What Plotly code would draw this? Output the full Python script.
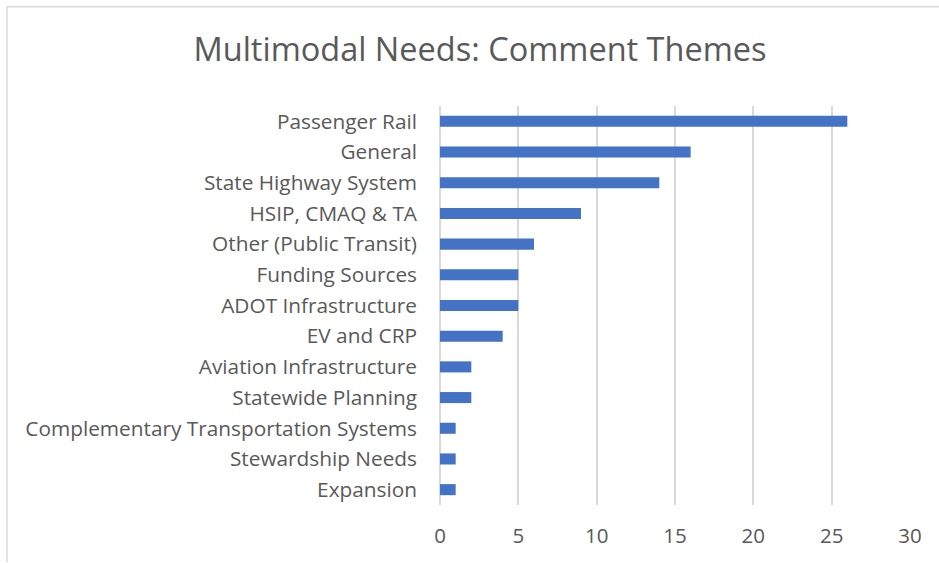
import plotly.graph_objects as go

categories = ["Passenger Rail", "General", "State Highway System", "HSIP, CMAQ & TA",
              "Other (Public Transit)", "Funding Sources", "ADOT Infrastructure",
              "EV and CRP", "Aviation Infrastructure", "Statewide Planning",
              "Complementary Transportation Systems", "Stewardship Needs", "Expansion"]
values = [26, 16, 14, 9, 6, 5, 5, 4, 2, 2, 1, 1, 1]
x_ticks = [0, 5, 10, 15, 20, 25, 30]

FONT = "Open Sans"
GREY = "#595959"

W, H = 939, 563
PL, PR, PT, PB = 440, 910, 105.5, 505.5   # plot area in page px
L, R, T, B = PL, W - PR, PT, H - PB
pw, ph = PR - PL, PB - PT

def px_to_paper_x(px):
    return (px - PL) / pw

def px_to_paper_y(py):
    return (PB - py) / ph

fig = go.Figure(go.Bar(
    y=categories, x=values, orientation="h",
    marker=dict(color="#4472C4", line=dict(width=0)),
    width=0.36,
))

border = dict(color="#d9d9d9", width=1.5)

fig.update_layout(
    width=W, height=H,
    margin=dict(l=L, r=R, t=T, b=B, pad=0),
    paper_bgcolor="white", plot_bgcolor="white",
    showlegend=False,
    title=dict(text="Multimodal Needs: Comment Themes", x=480 / W, xanchor="center",
               y=1 - 50 / H, yanchor="middle",
               font=dict(family=FONT, size=32.5, color=GREY)),
    font=dict(family=FONT, size=20, color=GREY),
    xaxis=dict(range=[0, 30], tickvals=x_ticks, showgrid=True, gridcolor="#d9d9d9",
               gridwidth=1.5, zeroline=True, zerolinecolor="#d9d9d9", zerolinewidth=1.5,
               showline=False, ticks="",
               ticklabelstandoff=16, tickfont=dict(size=20.5, color=GREY)),
    yaxis=dict(categoryorder="array", categoryarray=categories[::-1], showgrid=False,
               showline=False, zeroline=False, ticks="", ticklabelstandoff=22,
               tickfont=dict(size=20.8, color=GREY)),
    shapes=[
        dict(type="line", xref="paper", yref="paper",
             x0=px_to_paper_x(7), x1=px_to_paper_x(7),
             y0=px_to_paper_y(6), y1=px_to_paper_y(563), line=border, layer="below"),
        dict(type="line", xref="paper", yref="paper",
             x0=px_to_paper_x(7), x1=px_to_paper_x(939),
             y0=px_to_paper_y(6), y1=px_to_paper_y(6), line=border, layer="below"),
    ],
)

fig.write_html("out.html", config={"displayModeBar": False},
               post_script=("document.body.style.margin='0';"
                            "document.body.style.overflow='hidden';"
                            "document.documentElement.style.overflow='hidden';"))
